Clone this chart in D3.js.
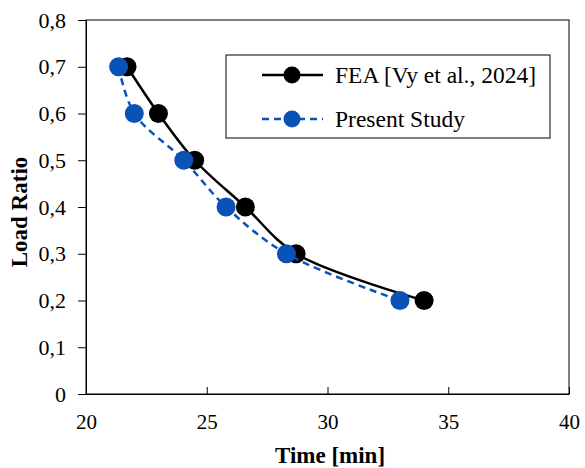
<!DOCTYPE html>
<html>
<head>
<meta charset="utf-8">
<script src="https://cdn.jsdelivr.net/npm/d3@7"></script>
<style>
  body { margin: 0; background: #fff; }
</style>
</head>
<body>
<div id="chart"></div>
<script>
// Data
var feaTime = [21.7, 23.0, 24.5, 26.6, 28.7, 34.0];
var feaLoad = [0.7, 0.6, 0.5, 0.4, 0.3, 0.2];
var studyTime = [21.35, 22.0, 24.05, 25.8, 28.3, 33.0];
var studyLoad = [0.7, 0.6, 0.5, 0.4, 0.3, 0.2];
var xTicks = [20, 25, 30, 35, 40];
var yTicks = [0, 0.1, 0.2, 0.3, 0.4, 0.5, 0.6, 0.7, 0.8];

var W = 585, H = 468;
var margin = {top: 20, right: 16, bottom: 74, left: 86};
var width = W - margin.left - margin.right,
    height = H - margin.top - margin.bottom;

var blue = "#0a52b5";
var serif = "Liberation Serif, Times New Roman, serif";

var svg = d3.select("#chart").append("svg")
    .attr("width", W)
    .attr("height", H)
    .append("g")
    .attr("transform", "translate(" + margin.left + "," + margin.top + ")");

var x = d3.scaleLinear().domain([20, 40]).range([0, width]);
var y = d3.scaleLinear().domain([0, 0.8]).range([height, 0]);

// plot frame
svg.append("rect")
    .attr("width", width)
    .attr("height", height)
    .attr("fill", "none")
    .attr("stroke", "#000")
    .attr("stroke-width", 1);

// X axis, ticks pointing inward
var xAxis = svg.append("g")
    .attr("transform", "translate(0," + height + ")")
    .call(d3.axisBottom(x).tickValues(xTicks).tickSizeInner(-7).tickSizeOuter(0).tickPadding(20));
xAxis.attr("font-family", serif).attr("font-size", 21);
xAxis.selectAll("text").attr("fill", "#000");

// Y axis, ticks pointing outward
var comma = function(d) { return d === 0 ? "0" : d3.format(".1f")(d).replace(".", ","); };
var yAxis = svg.append("g")
    .call(d3.axisLeft(y).tickValues(yTicks).tickFormat(comma).tickSizeInner(8).tickSizeOuter(0).tickPadding(12));
yAxis.attr("font-family", serif).attr("font-size", 22);
yAxis.selectAll("text").attr("fill", "#000");
svg.selectAll(".domain").attr("stroke", "#000");
svg.selectAll(".tick line").attr("stroke", "#000");

// Axis titles
svg.append("text")
    .attr("x", 244)
    .attr("y", height + 69)
    .attr("text-anchor", "middle")
    .attr("font-family", serif)
    .attr("font-size", 23)
    .attr("font-weight", "bold")
    .text("Time [min]");

svg.append("text")
    .attr("transform", "rotate(-90)")
    .attr("x", -192)
    .attr("y", -59)
    .attr("text-anchor", "middle")
    .attr("font-family", serif)
    .attr("font-size", 23)
    .attr("font-weight", "bold")
    .text("Load Ratio");

var line = d3.line()
    .x(function(d) { return x(d[0]); })
    .y(function(d) { return y(d[1]); })
    .curve(d3.curveCatmullRom.alpha(0.5));

var fea = d3.zip(feaTime, feaLoad);
var study = d3.zip(studyTime, studyLoad);

// FEA series
svg.append("path")
    .datum(fea)
    .attr("d", line)
    .attr("fill", "none")
    .attr("stroke", "#000")
    .attr("stroke-width", 2.5);
svg.append("g").selectAll("circle")
    .data(fea)
    .enter()
    .append("circle")
    .attr("cx", function(d) { return x(d[0]); })
    .attr("cy", function(d) { return y(d[1]); })
    .attr("r", 9.5)
    .attr("fill", "#000");

// Present study series
svg.append("path")
    .datum(study)
    .attr("d", line)
    .attr("fill", "none")
    .attr("stroke", blue)
    .attr("stroke-width", 2.5)
    .attr("stroke-dasharray", "7,5");
svg.append("g").selectAll("circle")
    .data(study)
    .enter()
    .append("circle")
    .attr("cx", function(d) { return x(d[0]); })
    .attr("cy", function(d) { return y(d[1]); })
    .attr("r", 9.5)
    .attr("fill", blue);

// Legend
var legend = svg.append("g")
    .attr("transform", "translate(" + (226 - margin.left) + "," + (55 - margin.top) + ")");
legend.append("rect")
    .attr("width", 324)
    .attr("height", 83)
    .attr("fill", "#fff")
    .attr("stroke", "#000")
    .attr("stroke-width", 1);

var items = [
    {label: "FEA [Vy et al., 2024]", color: "#000", dash: null, y: 20},
    {label: "Present Study", color: blue, dash: "7,5", y: 64}
];
items.forEach(function(it) {
    legend.append("line")
        .attr("x1", 36).attr("x2", 97)
        .attr("y1", it.y).attr("y2", it.y)
        .attr("stroke", it.color)
        .attr("stroke-width", 2.5)
        .attr("stroke-dasharray", it.dash);
    legend.append("circle")
        .attr("cx", 66).attr("cy", it.y)
        .attr("r", 8.5)
        .attr("fill", it.color);
    legend.append("text")
        .attr("x", 109)
        .attr("y", it.y + 8)
        .attr("font-family", serif)
        .attr("font-size", 23.5)
        .attr("fill", "#000")
        .text(it.label);
});
</script>
</body>
</html>
